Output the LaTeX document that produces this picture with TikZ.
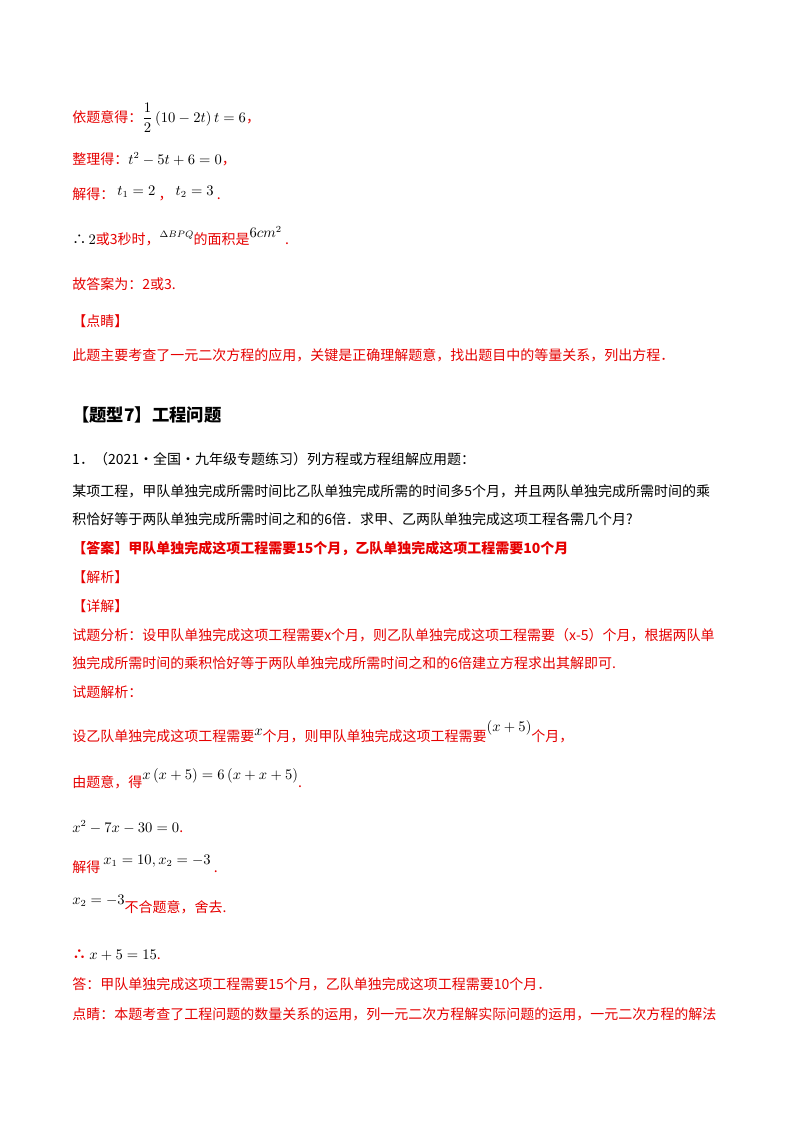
\documentclass[tikz,border=0pt]{standalone}
\usepackage{fontspec}
\setmainfont{Liberation Serif}
\newfontfamily\cjk{Noto Sans CJK SC}
\definecolor{rd}{RGB}{230,0,0}
\begin{document}
\begin{tikzpicture}[x=0.75pt,y=-0.75pt,
 t/.style={anchor=base west,inner sep=0pt,font=\fontsize{10.5pt}{12pt}\selectfont\cjk},
 r/.style={t,text=rd}]
\useasboundingbox (0,0) rectangle (800,1132);
\fill[white] (0,0) rectangle (800,1132);
\node[r] (l1) at (72,122) {依题意得：\textcolor{black}{$\displaystyle\frac{1}{2}\left(10-2t\right)t=6$}，};
\node[r] (l2) at (72,164) {整理得：\textcolor{black}{$t^2-5t+6=0$}，};
\node[r] (l3) at (72,199) {解得：\ \textcolor{black}{\raisebox{3pt}{$t_1=2$}}\ ，\ \textcolor{black}{\raisebox{3pt}{$t_2=3$}}\ .};
\node[r] (l4) at (72,244) {\textcolor{black}{∴\,$2$}或3秒时，\textcolor{black}{\raisebox{5pt}{\scriptsize$\Delta BPQ$}}的面积是\textcolor{black}{\raisebox{5pt}{$6cm^2$}}\ .};
\node[r] (l5) at (72,289) {故答案为：2或3.};
\node[r] (l6) at (72,326) {【点睛】};
\node[r] (l7) at (72,360) {此题主要考查了一元二次方程的应用，关键是正确理解题意，找出题目中的等量关系，列出方程．};
\node[t,font=\fontsize{13pt}{15pt}\selectfont\cjk\bfseries] (h) at (72,421) {【题型7】工程问题};
\node[t] (q1) at (72,464) {1．（2021·全国·九年级专题练习）列方程或方程组解应用题：};
\node[t] (q2) at (72,496) {某项工程，甲队单独完成所需时间比乙队单独完成所需的时间多5个月，并且两队单独完成所需时间的乘};
\node[t] (q3) at (72,524) {积恰好等于两队单独完成所需时间之和的6倍．求甲、乙两队单独完成这项工程各需几个月?};
\node[r,font=\fontsize{10.5pt}{12pt}\selectfont\cjk\bfseries] (a1) at (72,553) {【答案】甲队单独完成这项工程需要15个月，乙队单独完成这项工程需要10个月};
\node[r] (a2) at (72,582) {【解析】};
\node[r] (a3) at (72,611) {【详解】};
\node[r] (a4) at (72,640) {试题分析：设甲队单独完成这项工程需要x个月，则乙队单独完成这项工程需要（x-5）个月，根据两队单};
\node[r] (a5) at (72,668) {独完成所需时间的乘积恰好等于两队单独完成所需时间之和的6倍建立方程求出其解即可.};
\node[r] (a6) at (72,697) {试题解析：};
\node[r] (a7) at (72,741) {设乙队单独完成这项工程需要\textcolor{black}{\raisebox{4pt}{$x$}}个月，则甲队单独完成这项工程需要\textcolor{black}{\raisebox{7pt}{$\left(x+5\right)$}}个月，};
\node[r] (a8) at (72,787) {由题意，得\textcolor{black}{\raisebox{6pt}{$x\left(x+5\right)=6\left(x+x+5\right)$}}.};
\node[r] (a9) at (72,832) {\textcolor{black}{$x^2-7x-30=0$}.};
\node[r] (a10) at (72,872) {解得\ \textcolor{black}{\raisebox{6pt}{$x_1=10,x_2=-3$}}\ .};
\node[r] (a11) at (72,912) {\textcolor{black}{\raisebox{6pt}{$x_2=-3$}}不合题意，舍去.};
\node[r] (a12) at (72,959) {\textbf{∴}\ \textcolor{black}{$x+5=15$}.};
\node[r] (a13) at (72,989) {答：甲队单独完成这项工程需要15个月，乙队单独完成这项工程需要10个月．};
\node[r] (a14) at (72,1019) {点睛：本题考查了工程问题的数量关系的运用，列一元二次方程解实际问题的运用，一元二次方程的解法};
\end{tikzpicture}
\end{document}
